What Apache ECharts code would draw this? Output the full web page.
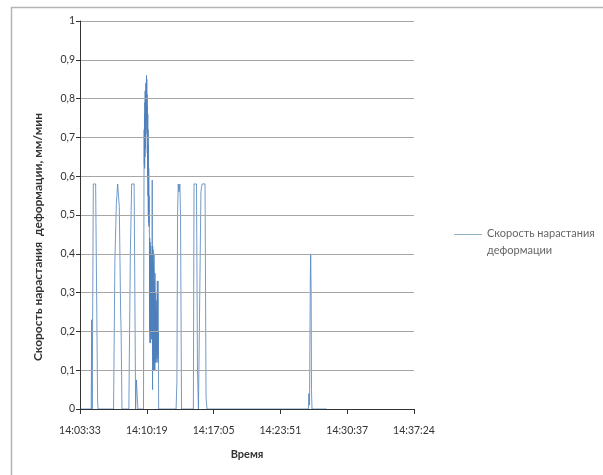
<!DOCTYPE html>
<html>
<head>
<meta charset="utf-8">
<script src="https://cdn.jsdelivr.net/npm/echarts@6/dist/echarts.min.js"></script>
<style>
html,body{margin:0;padding:0;background:#fff;}
#chart{width:603px;height:475px;}
</style>
</head>
<body>
<div id="chart"></div>
<script>
// time in seconds after 14:03:33
var times = [
  0, 68, 71, 74, 79, 81, 95, 101, 107, 110,
  204, 212, 221, 229, 234, 239, 247, 250, 255,
  297, 300, 306, 314, 329, 338, 343, 347, 352,
  386, 389, 390, 391, 392, 393, 394, 395, 396, 397, 398, 399, 400, 401, 402, 403, 404, 405, 406, 407, 408, 409, 410, 411, 412, 413, 414, 415, 416, 417, 418, 419, 420,
  422, 423, 424, 425, 426, 427, 428, 429, 430, 431, 432, 433, 434, 435, 436, 437, 438, 439, 441, 442, 443, 444, 445, 446, 447, 448, 449, 450,
  451, 452, 453, 454, 455, 456, 457, 458, 459, 460, 461, 462, 463, 464, 465, 466, 467, 468, 469, 470, 471, 472, 473, 474, 475, 476, 478,
  584, 589, 593, 597, 602, 607, 611, 617,
  689, 693, 708, 714, 720, 729, 735, 742, 760, 766, 772,
  1388, 1391, 1395, 1400, 1402, 1405, 1407, 1410, 1500
];
var values = [
  0, 0, 0.23, 0, 0, 0.58, 0.58, 0.3, 0.02, 0,
  0, 0.38, 0.53, 0.58, 0.58, 0.52, 0.25, 0.2, 0,
  0, 0.14, 0.4, 0.58, 0.58, 0, 0.075, 0.07, 0,
  0, 0.6, 0.72, 0.63, 0.76, 0.62, 0.79, 0.65, 0.82, 0.67, 0.81, 0.7, 0.84, 0.71, 0.82, 0.74, 0.86, 0.76, 0.85, 0.72, 0.81, 0.66, 0.78, 0.6, 0.76, 0.55, 0.72, 0.5, 0.68, 0.48, 0.62, 0.47, 0.55,
  0.45, 0.2, 0.44, 0.17, 0.43, 0.19, 0.4, 0.17, 0.42, 0.2, 0.38, 0.18, 0.4, 0.2, 0.37, 0.18, 0.36, 0.59, 0.05, 0.42, 0.14, 0.41, 0.12, 0.38, 0.1, 0.36, 0.13, 0.4,
  0.1, 0.33, 0.12, 0.3, 0.1, 0.35, 0.13, 0.27, 0.12, 0.3, 0.14, 0.25, 0.12, 0.28, 0.15, 0.22, 0.13, 0.26, 0.14, 0.33, 0.15, 0.3, 0.12, 0.33, 0.13, 0.2, 0,
  0, 0.07, 0.5, 0.58, 0.56, 0.58, 0.5, 0,
  0, 0.58, 0.58, 0.1, 0, 0, 0.56, 0.58, 0.58, 0.03, 0,
  0, 0.04, 0.01, 0.35, 0.4, 0.3, 0.05, 0, 0
];
var xTickLabels = ['14:03:33', '14:10:19', '14:17:05', '14:23:51', '14:30:37', '14:37:24'];
var yTickLabels = ['0', '0,1', '0,2', '0,3', '0,4', '0,5', '0,6', '0,7', '0,8', '0,9', '1'];
var seriesName = 'Скорость нарастания деформации';
var xTitle = 'Время';
var yTitle = 'Скорость нарастания  деформации, мм/мин';

var xStep = 406;
var data = times.map(function (t, i) { return [t, values[i]]; });
var FONT = 'Lato';

var chart = echarts.init(document.getElementById('chart'), null, {renderer: 'canvas'});
chart.setOption({
  animation: false,
  backgroundColor: '#ffffff',
  textStyle: {fontFamily: FONT},
  graphic: [{
    type: 'rect',
    shape: {x: 11.5, y: 7.5, width: 640, height: 520},
    style: {fill: 'none', stroke: '#b4b4b4', lineWidth: 1.5},
    silent: true,
    z: -1
  }],
  grid: {left: 80, right: 189, top: 21, bottom: 66, containLabel: false},
  legend: {
    show: true,
    left: 454,
    top: 225,
    padding: 0,
    orient: 'vertical',
    icon: 'path://M0,0H28V1H0Z M0,16H0.01V16.01H0Z',
    itemWidth: 28,
    itemHeight: 17,
    itemGap: 4,
    itemStyle: {color: '#8fb2c6'},
    textStyle: {fontFamily: FONT, fontSize: 11, color: '#666666', lineHeight: 17},
    formatter: function () { return 'Скорость нарастания\nдеформации'; },
    data: [seriesName]
  },
  xAxis: {
    type: 'value',
    min: 0,
    max: xStep * 5,
    interval: xStep,
    z: 3,
    name: xTitle,
    nameLocation: 'middle',
    nameGap: 40,
    nameTextStyle: {fontFamily: FONT, fontSize: 11, fontWeight: 'bold', color: '#333333'},
    axisLine: {show: true, lineStyle: {color: '#333333', width: 1}},
    axisTick: {show: true, inside: false, length: 5, lineStyle: {color: '#333333'}},
    axisLabel: {
      margin: 16,
      fontFamily: FONT, fontSize: 10.5, color: '#333333',
      formatter: function (v) { return xTickLabels[Math.round(v / xStep)] || ''; }
    },
    splitLine: {show: false}
  },
  yAxis: {
    type: 'value',
    min: 0,
    max: 1,
    interval: 0.1,
    z: 3,
    name: yTitle,
    nameLocation: 'middle',
    nameRotate: 90,
    nameGap: 36,
    nameTextStyle: {fontFamily: FONT, fontSize: 12, fontWeight: 'bold', color: '#333333', padding: [0, 44, 0, 0]},
    axisLine: {show: true, lineStyle: {color: '#333333', width: 1}},
    axisTick: {show: true, inside: false, length: 4, lineStyle: {color: '#333333'}},
    axisLabel: {
      margin: 5,
      fontFamily: FONT, fontSize: 10.5, color: '#333333',
      formatter: function (v) { return yTickLabels[Math.round(v * 10)] || ''; }
    },
    splitLine: {show: true, lineStyle: {color: '#a6a6a6', width: 1}}
  },
  series: [{
    name: seriesName,
    type: 'line',
    data: data,
    symbol: 'none',
    showSymbol: false,
    lineStyle: {color: '#4f81bd', width: 0.8},
    itemStyle: {color: '#4f81bd'},
    z: 2
  }]
});
</script>
</body>
</html>
